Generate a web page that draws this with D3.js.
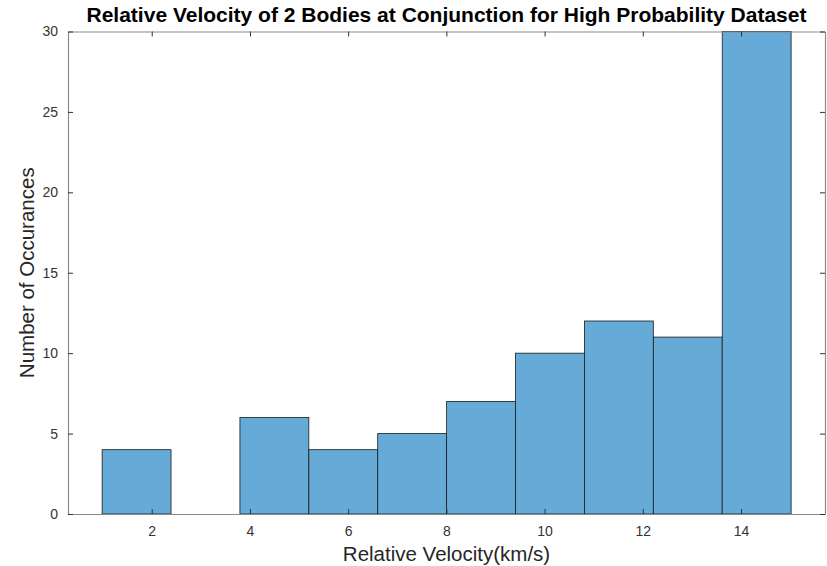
<!DOCTYPE html>
<html>
<head>
<meta charset="utf-8">
<script src="https://cdn.jsdelivr.net/npm/d3@7"></script>
<style>
  body { margin: 0; background: #fff; }
  #chart { width: 827px; height: 566px; }
  text { font-family: "Liberation Sans", Arial, sans-serif; }
</style>
</head>
<body>
<div id="chart"></div>
<script>
// histogram bins (km/s) and counts
let binEdges = [0.99, 2.393, 3.796, 5.199, 6.602, 8.005, 9.408, 10.811, 12.214, 13.617, 15.02];
let counts = [4, 0, 6, 4, 5, 7, 10, 12, 11, 30];
let xTicks = [2, 4, 6, 8, 10, 12, 14];
let yTicks = [0, 5, 10, 15, 20, 25, 30];

function render_hist(div) {
    let w = 827, h = 566;
    let left = 68, right = 825, top = 31.5, bottom = 514;

    let bins = counts.map(function (c, i) {
        return {x0: binEdges[i], x1: binEdges[i + 1], n: c};
    });

    let x = d3.scaleLinear().domain([0.295, 15.71]).range([left, right]);
    let y = d3.scaleLinear().domain([0, 30]).range([bottom, top]);

    let svg = d3.select("#" + div)
        .append("svg")
        .attr("width", w)
        .attr("height", h);

    svg.selectAll("rect.bar")
        .data(bins)
        .enter()
        .append("rect")
        .attr("class", "bar")
        .attr("x", function (d) { return x(d.x0); })
        .attr("y", function (d) { return y(d.n); })
        .attr("width", function (d) { return x(d.x1) - x(d.x0); })
        .attr("height", function (d) { return y(0) - y(d.n); })
        .style("fill", function (d) { return d.n > 0 ? "#66aad7" : "none"; })
        .style("stroke", function (d) { return d.n > 0 ? "#1a1a1a" : "none"; })
        .style("stroke-width", 0.8);

    let tickLen = 5;
    let axisCol = "#8a8a8a";

    // axes, ticks pointing inward
    let gx = svg.append("g").attr("transform", "translate(0," + bottom + ")")
        .call(d3.axisBottom(x).tickValues(xTicks).tickSizeInner(-tickLen).tickSizeOuter(0).tickPadding(12));
    let gxTop = svg.append("g").attr("transform", "translate(0," + top + ")")
        .call(d3.axisTop(x).tickValues(xTicks).tickSizeInner(-tickLen).tickSizeOuter(0).tickFormat(""));
    let gy = svg.append("g").attr("transform", "translate(" + left + ",0)")
        .call(d3.axisLeft(y).tickValues(yTicks).tickSizeInner(-tickLen).tickSizeOuter(0).tickPadding(10));
    let gyRight = svg.append("g").attr("transform", "translate(" + right + ",0)")
        .call(d3.axisRight(y).tickValues(yTicks).tickSizeInner(-tickLen).tickSizeOuter(0).tickFormat(""));

    [gx, gxTop, gy, gyRight].forEach(function (g) {
        g.selectAll("path").style("stroke", axisCol).style("stroke-width", 1.2);
        g.selectAll("line").style("stroke", "#333").style("stroke-width", 1);
        g.selectAll("text")
            .style("font-size", "14px")
            .style("fill", "#333")
            .style("font-family", "'Liberation Sans', Arial, sans-serif");
    });

    svg.append("text")
        .attr("x", (left + right) / 2)
        .attr("y", 22)
        .attr("text-anchor", "middle")
        .style("font-size", "21px")
        .style("font-weight", "bold")
        .style("fill", "#000")
        .text("Relative Velocity of 2 Bodies at Conjunction for High Probability Dataset");

    svg.append("text")
        .attr("x", (left + right) / 2)
        .attr("y", 561)
        .attr("text-anchor", "middle")
        .style("font-size", "20.5px")
        .style("fill", "#262626")
        .text("Relative Velocity(km/s)");

    svg.append("text")
        .attr("transform", "translate(34," + ((top + bottom) / 2) + ") rotate(-90)")
        .attr("text-anchor", "middle")
        .style("font-size", "20.5px")
        .style("fill", "#262626")
        .text("Number of Occurances");
}

render_hist("chart");
</script>
</body>
</html>
